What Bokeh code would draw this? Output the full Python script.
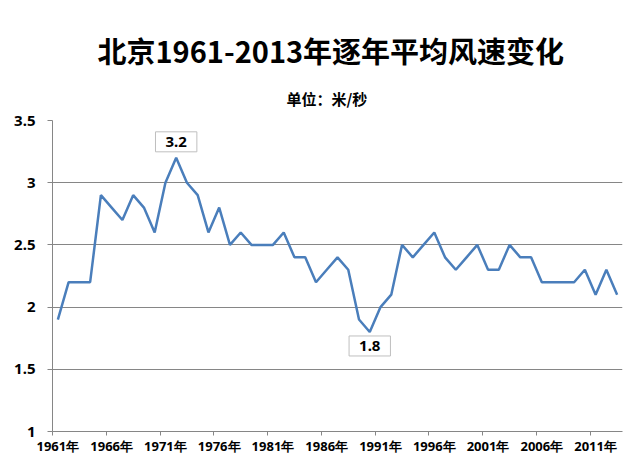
import numpy as np
from bokeh.plotting import figure
from bokeh.models import Range1d, FixedTicker, Label, Title, NumeralTickFormatter
from bokeh.embed import file_html
from bokeh.resources import INLINE

# ---- data ----
years = list(range(1961, 2014))
speed = [1.9, 2.2, 2.2, 2.2, 2.9, 2.8, 2.7, 2.9, 2.8, 2.6,
         3.0, 3.2, 3.0, 2.9, 2.6, 2.8, 2.5, 2.6, 2.5, 2.5,
         2.5, 2.6, 2.4, 2.4, 2.2, 2.3, 2.4, 2.3, 1.9, 1.8,
         2.0, 2.1, 2.5, 2.4, 2.5, 2.6, 2.4, 2.3, 2.4, 2.5,
         2.3, 2.3, 2.5, 2.4, 2.4, 2.2, 2.2, 2.2, 2.2, 2.3,
         2.1, 2.3, 2.1]
x_tick_years = [1961, 1966, 1971, 1976, 1981, 1986, 1991, 1996, 2001, 2006, 2011]
x_tick_labels = ["1961年", "1966年", "1971年", "1976年", "1981年", "1986年",
                 "1991年", "1996年", "2001年", "2006年", "2011年"]
y_ticks = [1, 1.5, 2, 2.5, 3, 3.5]
title_text = "北京1961-2013年逐年平均风速变化"
subtitle_text = "单位：米/秒"

CJK = "Noto Sans CJK SC"
GRID = "#868686"
LINE = "#4A7EBB"

p = figure(width=624, height=457, output_backend="svg", toolbar_location=None,
           x_range=Range1d(years[0] - 0.5, years[-1] + 0.5),
           y_range=Range1d(y_ticks[0], y_ticks[-1]),
           min_border_left=52, min_border_right=2, min_border_top=120, min_border_bottom=5)
p.outline_line_color = None
p.background_fill_color = "white"
p.border_fill_color = "white"

# titles
p.add_layout(Title(text=subtitle_text, align="left", text_font=CJK,
                   text_font_size="15px", text_font_style="bold",
                   text_color="#000000", standoff=24, offset=234), "above")
p.title.text = title_text
p.title.align = "left"
p.title.text_font = CJK
p.title.text_font_size = "29px"
p.title.text_font_style = "bold"
p.title.text_color = "#000000"
p.title.standoff = 5
p.title.offset = 45

# grid
p.xgrid.grid_line_color = None
p.ygrid.grid_line_color = GRID
p.ygrid.grid_line_width = 1
p.ygrid.ticker = FixedTicker(ticks=y_ticks)

# x axis
xa = p.xaxis[0]
xa.ticker = FixedTicker(ticks=x_tick_years, minor_ticks=[y - 0.5 for y in x_tick_years])
xa.major_label_overrides = {y: lab for y, lab in zip(x_tick_years, x_tick_labels)}
xa.axis_line_color = GRID
xa.major_tick_line_color = None
xa.major_tick_out = 0
xa.major_tick_in = 0
xa.minor_tick_line_color = GRID
xa.minor_tick_out = 4
xa.minor_tick_in = 0
xa.major_label_standoff = 1
xa.major_label_text_font = "Noto Sans"
xa.major_label_text_font_size = "13px"
xa.major_label_text_font_style = "bold"
xa.major_label_text_color = "#000000"

# y axis
ya = p.yaxis[0]
ya.ticker = FixedTicker(ticks=y_ticks)
ya.formatter = NumeralTickFormatter(format="0.[0]")
ya.axis_line_color = GRID
ya.major_tick_line_color = GRID
ya.major_tick_out = 5
ya.major_tick_in = 0
ya.minor_tick_line_color = None
ya.major_label_standoff = 12
ya.major_label_text_font = "Noto Sans"
ya.major_label_text_font_size = "15px"
ya.major_label_text_font_style = "bold"
ya.major_label_text_color = "#000000"

# line
p.line(years, speed, line_color=LINE, line_width=2.5)

# max/min labels
imax = int(np.argmax(speed))
imin = int(np.argmin(speed))
for idx, off in ((imax, 16), (imin, -14)):
    p.add_layout(Label(x=years[idx], y=speed[idx], text=f"{speed[idx]:.1f}",
                       y_offset=off, text_align="center", text_baseline="middle",
                       text_font="Noto Sans", text_font_size="15px", text_font_style="bold",
                       text_color="#000000", background_fill_color="white",
                       border_line_color="#BFBFBF", border_line_width=1,
                       padding=(10, 5)))

open("out.html", "w").write(file_html(p, INLINE))
